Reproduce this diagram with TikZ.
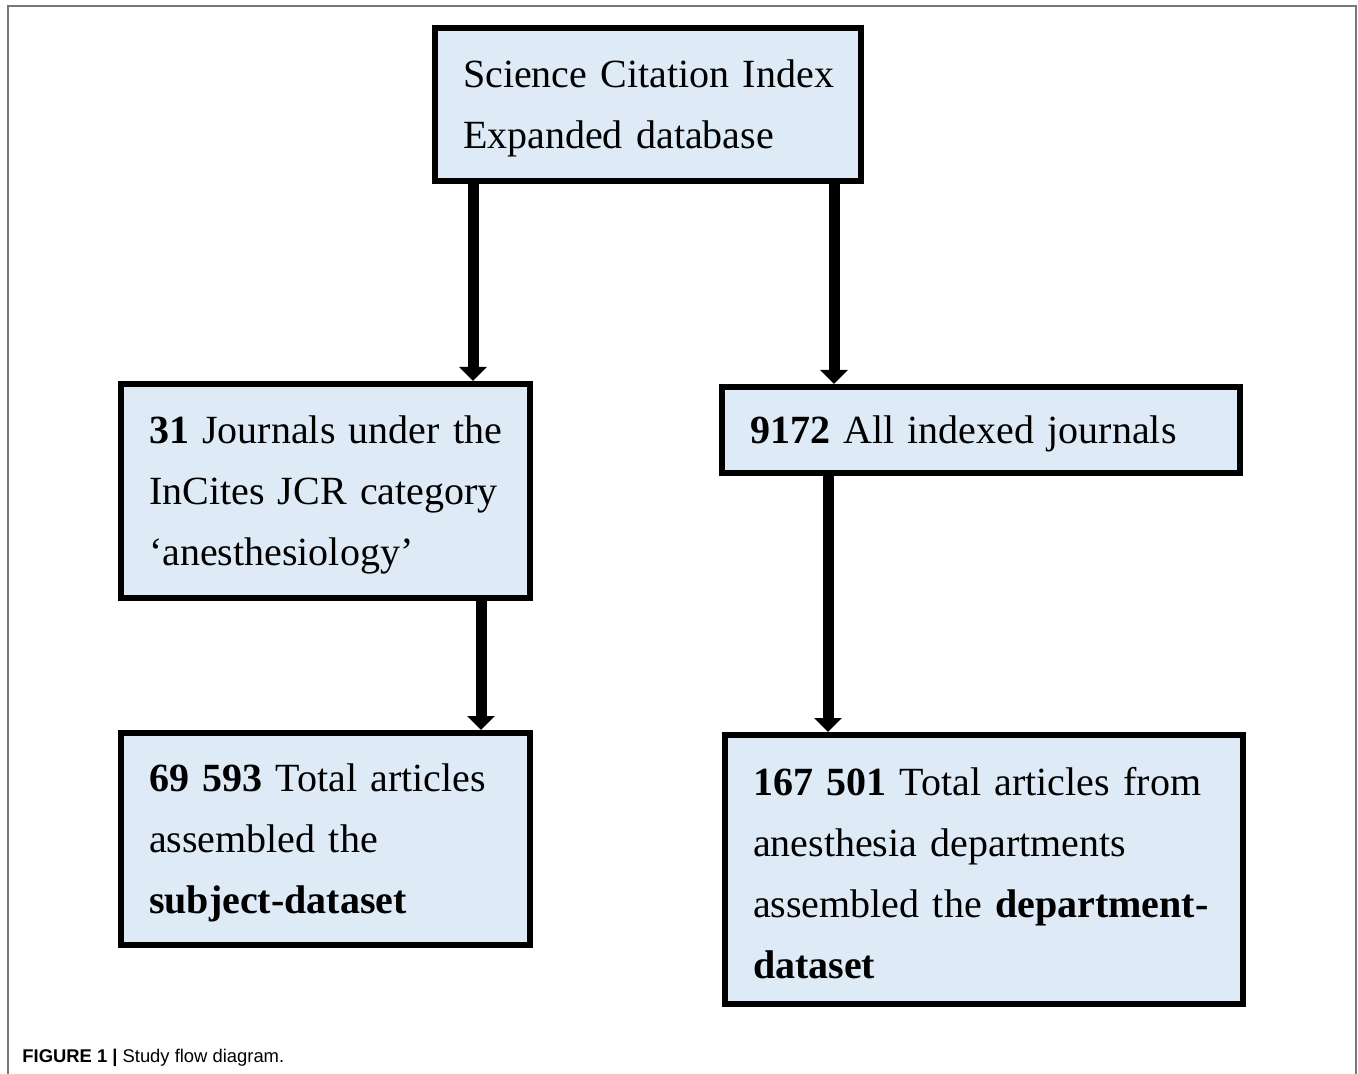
\documentclass[tikz,border=0pt]{standalone}
\usepackage{fontspec}
\setmainfont{Liberation Serif}
\newfontfamily\capfont{Liberation Sans}
\usetikzlibrary{arrows.meta,calc}
\definecolor{boxblue}{RGB}{222,234,246}
\definecolor{framegray}{RGB}{120,120,120}
\newcommand{\boxline}[1]{\mbox{#1}}
\tikzset{
  stepbox/.style={draw, line width=3pt, fill=boxblue, inner xsep=14pt, inner ysep=0pt, align=left, font=\fontsize{20}{30.5}\selectfont, execute at begin node={\rule{0pt}{18pt}}},
  flow/.style={line width=5.5pt, -{Triangle[width=13.5pt,length=7pt]}}
}
\begin{document}
\begin{tikzpicture}[x=0.5pt,y=-0.5pt]
\useasboundingbox (0,0) rectangle (1358,1074);
\draw[framegray, line width=0.8pt] (8,1074) -- (8,6) -- (1356,6) -- (1356,1074);

\node[stepbox, minimum width=213pt, minimum height=76.5pt, text width=185pt] (sci) at (648,104.5) {\boxline{Science Citation Index}\\\boxline{Expanded database}};
\node[stepbox, minimum width=204.5pt, minimum height=107pt, text width=176.5pt] (jcr) at (325.5,491) {\boxline{\textbf{31} Journals under the}\\\boxline{InCites JCR category}\\\boxline{‘anesthesiology’}};
\node[stepbox, minimum width=259pt, minimum height=43pt, text width=231pt] (alljour) at (981,430) {\boxline{\textbf{9172} All indexed journals}};
\node[stepbox, minimum width=204.5pt, minimum height=106pt, text width=176.5pt] (subj) at (325.5,839) {\boxline{\textbf{69 593} Total articles}\\\boxline{assembled the}\\\boxline{\textbf{subject-dataset}}};
\node[stepbox, minimum width=259pt, minimum height=134.5pt, text width=231pt] (dept) at (984,869.5) {\boxline{\textbf{167 501} Total articles from}\\\boxline{anesthesia departments}\\\boxline{assembled the \textbf{department-}}\\\boxline{\textbf{dataset}}};

\coordinate (a1) at ($(sci.south west)+(41,0)$);
\coordinate (a2) at ($(sci.south east)+(-30,0)$);
\coordinate (a3) at ($(jcr.south east)+(-52,0)$);
\coordinate (a4) at ($(alljour.south west)+(109,0)$);
\draw[flow] (a1) -- (a1 |- jcr.north);
\draw[flow] (a2) -- (a2 |- alljour.north);
\draw[flow] (a3) -- (a3 |- subj.north);
\draw[flow] (a4) -- (a4 |- dept.north);

\node[anchor=base west, inner sep=0pt, font=\capfont\fontsize{9.2}{11}\selectfont] (cap) at (22,1062) {\textbf{FIGURE 1 |} Study flow diagram.};
\end{tikzpicture}
\end{document}
